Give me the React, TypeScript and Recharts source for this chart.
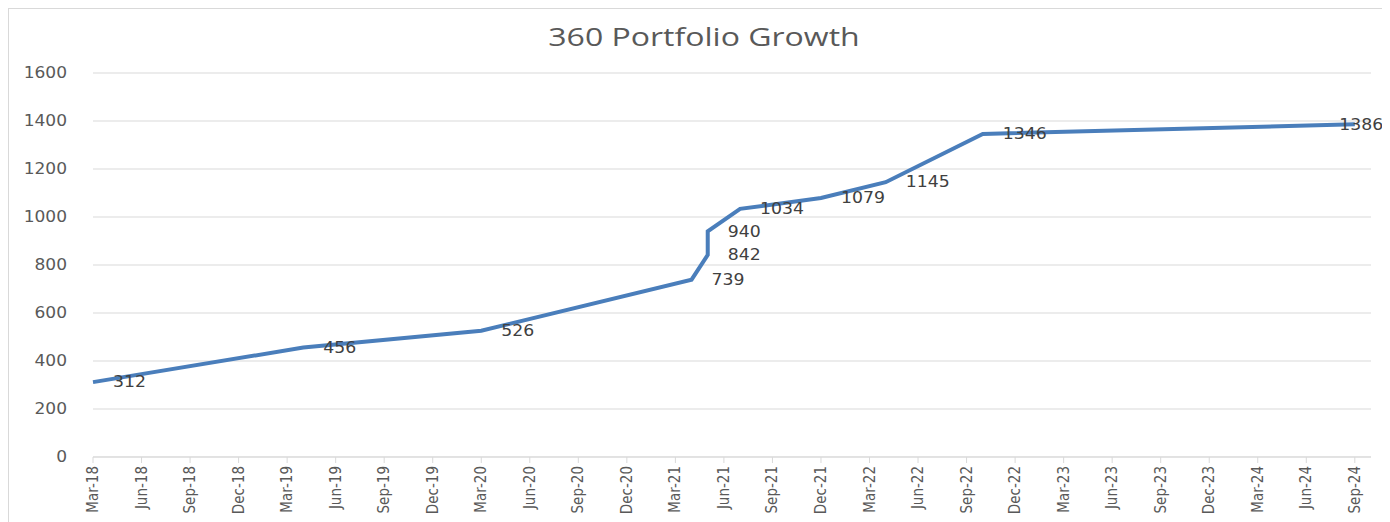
import React from "react";
import { LineChart, Line, XAxis, YAxis, CartesianGrid, LabelList } from "recharts";

const pointDates = ["Mar-18", "Apr-19", "Mar-20", "Apr-21", "May-21", "May-21", "Jul-21", "Dec-21", "Apr-22", "Oct-22", "Sep-24"];
const portfolioValues = [312, 456, 526, 739, 842, 940, 1034, 1079, 1145, 1346, 1386];
const tickLabels = [
  "Mar-18", "Jun-18", "Sep-18", "Dec-18", "Mar-19", "Jun-19", "Sep-19", "Dec-19",
  "Mar-20", "Jun-20", "Sep-20", "Dec-20", "Mar-21", "Jun-21", "Sep-21", "Dec-21",
  "Mar-22", "Jun-22", "Sep-22", "Dec-22", "Mar-23", "Jun-23", "Sep-23", "Dec-23",
  "Mar-24", "Jun-24", "Sep-24",
];
const yTicks = [0, 200, 400, 600, 800, 1000, 1200, 1400, 1600];

const MONTHS = ["Jan", "Feb", "Mar", "Apr", "May", "Jun", "Jul", "Aug", "Sep", "Oct", "Nov", "Dec"];
const toMonthIndex = (s: string) => {
  const [m, y] = s.split("-");
  return (2000 + Number(y)) * 12 + MONTHS.indexOf(m);
};
const base = toMonthIndex(tickLabels[0]);
const data = pointDates.map((d, i) => ({ t: toMonthIndex(d) - base, v: portfolioValues[i], d }));
const xTicks = tickLabels.map((l) => toMonthIndex(l) - base);
const labelByT: Record<number, string> = {};
tickLabels.forEach((l, i) => (labelByT[xTicks[i]] = l));

const W = 1382;
const H = 514;

const XTick = (props: any) => {
  const { x, y, payload } = props;
  return (
    <g transform={`translate(${x},${y})`}>
      <text
        transform="rotate(-90) scale(1,1.12)"
        textAnchor="end"
        x={-1}
        dy={4.5}
        fill="#595959"
        fontSize={13.5}
        fontFamily="DejaVu Sans"
      >
        {labelByT[payload.value]}
      </text>
    </g>
  );
};

const YTick = (props: any) => {
  const { x, y, payload } = props;
  return (
    <text
      x={x}
      y={y}
      textAnchor="end"
      dominantBaseline="central"
      fill="#595959"
      fontSize={15.5}
      fontFamily="DejaVu Sans"
      transform={`translate(${x},0) scale(1.1,1) translate(${-x},0)`}
    >
      {payload.value}
    </text>
  );
};

const DataLabel = (props: any) => {
  const { x, y, value } = props;
  const s = String(value);
  const w = s.length * 11.2;
  let tx = x + 20;
  if (tx + w > W - 6) tx = W - 6 - w;
  return (
    <text
      x={tx}
      y={y}
      dominantBaseline="central"
      fill="#404040"
      fontSize={16}
      fontFamily="DejaVu Sans"
      transform={`translate(${tx},0) scale(1.08,1) translate(${-tx},0)`}
    >
      {s}
    </text>
  );
};

export default function App() {
  return (
    <div
      style={{
        width: W,
        height: H,
        position: "relative",
        borderLeft: "1px solid #d9d9d9",
        borderTop: "1px solid #d9d9d9",
        boxSizing: "border-box",
        background: "#fff",
      }}
    >
      <div
        style={{
          position: "absolute",
          top: 10,
          left: 0,
          width: W + 8,
          textAlign: "center",
          fontFamily: "Open Sans",
          fontSize: 25,
          color: "#595959",
          transform: "scaleX(1.28)",
          transformOrigin: "center",
        }}
      >
        360 Portfolio Growth
      </div>
      <div style={{ position: "absolute", top: -1, left: -1 }}>
        <LineChart width={W} height={H} data={data} margin={{ top: 65, right: 19, bottom: 5, left: 25 }}>
          <CartesianGrid vertical={false} stroke="#d9d9d9" strokeWidth={1} />
          <XAxis
            dataKey="t"
            type="number"
            domain={[0, 79]}
            ticks={xTicks}
            interval={0}
            tick={<XTick />}
            tickLine={{ stroke: "#d9d9d9" }}
            tickSize={6}
            axisLine={{ stroke: "#d9d9d9" }}
            height={60}
          />
          <YAxis
            type="number"
            domain={[0, 1600]}
            ticks={yTicks}
            interval={0}
            axisLine={false}
            tickLine={false}
            width={60}
            tickMargin={20}
            tick={<YTick />}
          />
          <Line
            type="linear"
            dataKey="v"
            stroke="#4a7ebb"
            strokeWidth={4}
            dot={false}
            isAnimationActive={false}
          >
            <LabelList dataKey="v" content={<DataLabel />} />
          </Line>
        </LineChart>
      </div>
    </div>
  );
}
